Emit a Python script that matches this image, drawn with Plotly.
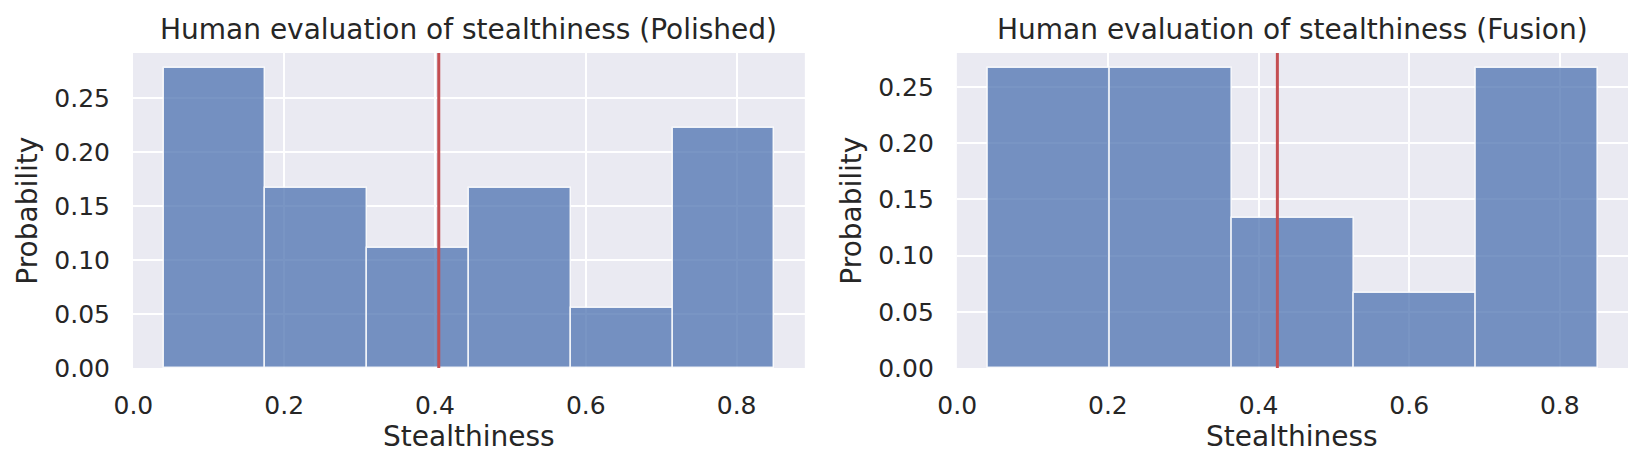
import plotly.graph_objects as go

# ---- data ----
titles = ["Human evaluation of stealthiness (Polished)", "Human evaluation of stealthiness (Fusion)"]
x_min = 0.04
x_max = 0.85
polished_probs = [0.2778, 0.1667, 0.1111, 0.1667, 0.0556, 0.2222]
fusion_probs = [0.2667, 0.2667, 0.1333, 0.0667, 0.2667]
polished_mean = 0.405
fusion_mean = 0.425
x_ticks = [0.0, 0.2, 0.4, 0.6, 0.8]
y_ticks = [0.00, 0.05, 0.10, 0.15, 0.20, 0.25]

FONT = "DejaVu Sans"
TXT = "#262626"
BAR = "rgba(76,114,176,0.75)"
RED = "#C44E52"
BG = "#EAEAF2"

fig = go.Figure()

panels = [
    (polished_probs, polished_mean, "x", "y", "x domain", "y domain"),
    (fusion_probs, fusion_mean, "x2", "y2", "x2 domain", "y2 domain"),
]

# page body has an 8px margin: figure is shrunk and shifted to compensate
OFF = 8
W, H = 1645 - 2 * OFF, 470 - 2 * OFF
ml = 133.3 - OFF
mt = 52.7 - OFF
ph = 368.3 - 52.7
pw = 1628 - 133.3
mr = W - ml - pw
mb = H - mt - ph
pan_w = 805 - 133.3
doms = [[0.0, pan_w / pw], [(957 - 133.3) / pw, 1.0]]

for i, (probs, mean, xa, ya, xd, yd) in enumerate(panels):
    n = len(probs)
    w = (x_max - x_min) / n
    centers = [x_min + w * (k + 0.5) for k in range(n)]
    fig.add_trace(go.Bar(
        x=centers, y=probs, width=[w] * n,
        marker=dict(color=BAR, line=dict(color="rgba(255,255,255,0.85)", width=1.5)),
        xaxis=xa, yaxis=ya, showlegend=False, hoverinfo="skip",
    ))
    fig.add_shape(type="line", xref=xa, yref=yd, x0=mean, x1=mean, y0=0, y1=1,
                  line=dict(color=RED, width=3), layer="above")
    ymax = max(probs) * 1.05
    pad = (x_max - x_min) * 0.05
    suffix = "" if i == 0 else "2"
    fig.layout["xaxis" + suffix] = dict(
        domain=doms[i], anchor=ya, range=[x_min - pad, x_max + pad],
        tickvals=x_ticks, tickformat=".1f", showgrid=True, gridcolor="white",
        gridwidth=2, zeroline=False, showline=False, ticks="",
        ticklabelstandoff=20,
        tickfont=dict(family=FONT, size=25, color=TXT),
    )
    fig.layout["yaxis" + suffix] = dict(
        domain=[0, 1], anchor=xa, range=[0, ymax],
        tickvals=y_ticks, tickformat=".2f", showgrid=True, gridcolor="white",
        gridwidth=2, zeroline=False, showline=False, ticks="",
        ticklabelstandoff=22,
        tickfont=dict(family=FONT, size=25, color=TXT),
    )
    fig.add_annotation(text=titles[i], xref=xd, yref=yd, x=0.5,
                       y=1 + (52.7 - 29.4) / ph,
                       xanchor="center", yanchor="middle", showarrow=False,
                       font=dict(family=FONT, size=28, color=TXT))
    fig.add_annotation(text="Stealthiness", xref=xd, yref=yd, x=0.5,
                       y=-(437 - 368.3) / ph,
                       xanchor="center", yanchor="middle", showarrow=False,
                       font=dict(family=FONT, size=28, color=TXT))
    fig.add_annotation(text="Probability", xref=xd, yref=yd, x=-105.8 / pan_w, y=0.5,
                       xanchor="center", yanchor="middle", textangle=-90, showarrow=False,
                       font=dict(family=FONT, size=28, color=TXT))

fig.update_layout(
    width=W, height=H,
    margin=dict(l=ml, r=mr, t=mt, b=mb, autoexpand=False),
    paper_bgcolor="white", plot_bgcolor=BG,
    bargap=0,
    font=dict(family=FONT, color=TXT),
)

fig.write_html("out.html")
